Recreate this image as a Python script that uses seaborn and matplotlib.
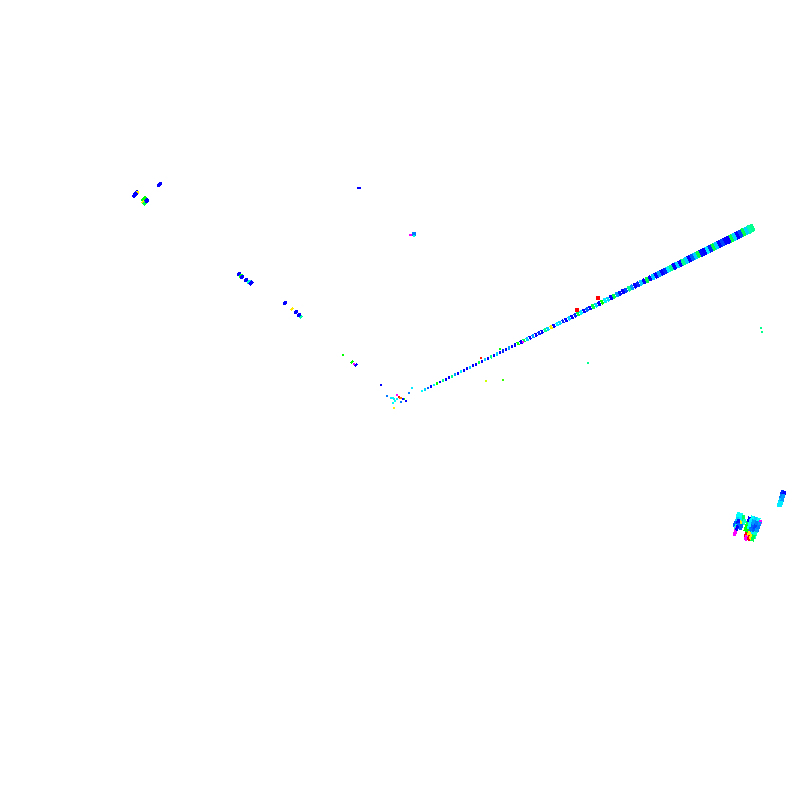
import matplotlib
matplotlib.use('Agg')
import matplotlib.pyplot as plt
import seaborn as sns

# values, origin near the middle of the frame
streak_x = [352, 349, 346, 343, 340, 337, 334, 331, 328, 325, 322, 319, 316, 313, 310, 307, 304, 301, 298, 295,
            292, 289, 286, 283, 280, 277, 274, 271, 268, 265, 262, 259, 256, 253, 250, 247, 244, 241, 238, 235,
            232, 229, 226, 223, 220, 217, 214, 211, 208, 205, 202, 199, 196, 193, 190, 187, 184, 181, 178, 175,
            172, 169, 166, 163, 160, 157, 154, 151, 148, 145, 142, 139, 136, 133, 130, 127, 124, 121, 118, 115,
            112, 109, 106, 103, 100, 97, 94, 91, 88, 85, 82, 79, 76, 73, 70, 67, 64, 61, 58, 55,
            52, 49, 46, 43, 40, 37, 34, 31, 28, 25, 22]
streak_y = [172, 170.5, 169, 167.6, 166, 164.6, 163, 161.6, 160.2, 158.7, 157.2, 155.7, 154.2, 152.7, 151.3, 149.8, 148.3, 146.8, 145.3, 143.9,
            142.4, 140.9, 139.4, 137.9, 136.4, 135, 133.5, 132, 130.5, 129, 127.5, 126, 124.6, 123.1, 121.6, 120.1, 118.7, 117.2, 115.7, 114.2,
            112.7, 111.2, 109.8, 108.3, 106.8, 105.3, 103.8, 102.4, 100.9, 99.4, 97.9, 96.4, 94.9, 93.5, 92, 90.5, 89, 87.5, 86.1, 84.6,
            83.1, 81.6, 80.1, 78.6, 77.2, 75.7, 74.2, 72.7, 71.2, 69.8, 68.3, 66.8, 65.3, 63.8, 62.3, 60.9, 59.4, 57.9, 56.4, 54.9,
            53.4, 52, 50.5, 49, 47.5, 46, 44.6, 43.1, 41.6, 40.1, 38.6, 37.1, 35.7, 34.2, 32.7, 31.2, 29.7, 28.3, 26.8, 25.3,
            23.8, 22.3, 20.8, 19.4, 17.9, 16.4, 14.9, 13.4, 12, 10.5, 9]
streak_val = [.5, .52, .62, .45, .72, .77, .62, .45, .77, .77, .72, .77, .62, .45, .74, .6, .77, .76, .45, .62,
              .7, .77, .62, .5, .77, .62, .77, .5, .6, .74, .77, .66, .77, .62, .77, .45, .77, .62, .74, .77,
              .66, .5, .72, .77, .76, .66, .45, .77, .62, .6, .4, .77, .62, .45, .77, .7, .77, .6, .45, .74,
              .77, .62, .77, .74, .62, .6, .77, .2, .62, .5, .77, .74, .77, .66, .77, .62, .45, .77, .4, .77,
              .77, .66, .77, .74, .77, .62, .77, .5, .77, .62, .77, .45, .77, .77, .62, .77, .77, .6, .77, .66,
              .5, .77, .77, .5, .77, .4, .6, .77, .7, .62, .58]
streak_size = [30, 32, 30, 30, 29, 29, 28, 28, 27, 26, 26, 25, 25, 24, 24, 23, 23, 22, 21, 21,
               20, 20, 20, 19, 18, 18, 18, 17, 16, 16, 16, 15, 15, 14, 14, 14, 13, 13, 12, 12,
               11, 11, 10, 10, 10, 10, 10, 9, 9, 9, 8, 8, 8, 8, 7, 7, 7, 7, 6, 6,
               6, 6, 6, 5, 5, 5, 5, 5, 5, 4.5, 4.5, 4.5, 4.5, 4, 4, 4, 4, 4, 4, 3.5,
               3.5, 3.5, 3.5, 3, 3, 3, 3, 3, 2.5, 2.5, 2.5, 2.5, 2.5, 2.5, 2, 2, 2, 2, 2, 2,
               1.8, 1.8, 1.8, 1.6, 1.6, 1.6, 1.5, 1.5, 1.4, 1.2, 1]

left_x = [-240, -241, -264, -263, -265, -256, -254, -257, -255, -253,
          -161, -159, -158, -154, -151, -149,
          -115, -108, -104, -101, -99, -57, -48, -46, -44]
left_y = [216, 215, 207, 207, 205, 201, 199, 198, 197, 199,
          126, 124, 123, 120, 118, 117,
          97, 91, 88, 85, 83, 45, 38, 36, 35]
left_val = [.77, .77, .77, .2, .77, .4, .77, .2, .45, .77,
            .77, .42, .77, .77, .55, .77,
            .77, .2, .77, .77, .52, .4, .4, .95, .77]
left_size = [8, 8, 12, 6, 12, 14, 12, 5, 10, 7,
             6, 6, 6, 8, 6, 9,
             6, 5, 6, 6, 4, 1, 3, 2, 3]

cluster_x = [382, 384, 381, 383, 380, 382, 379, 381,
             338, 341, 343, 337, 340, 335, 338, 341, 344, 336, 338, 341, 336, 335, 337,
             349, 352, 355, 358, 360, 347, 350, 353, 356, 359, 346, 349, 352, 355, 358,
             347, 350, 353, 356, 346, 349, 352, 355, 346, 349, 351, 353]
cluster_y = [-93, -94, -97, -97, -101, -101, -104, -104,
             -115, -116, -118, -120, -120, -124, -122, -123, -122, -127, -126, -127, -130, -133, -128,
             -120, -119, -120, -121, -123, -125, -123, -123, -124, -125, -128, -127, -128, -128, -128,
             -132, -131, -132, -132, -135, -134, -135, -135, -138, -138, -137, -138]
cluster_val = [.74, .77, .68, .66, .62, .66, .6, .6,
               .58, .58, .47, .62, .6, .7, .75, .2, .55, .55, .7, .7, .95, .95, .77,
               .77, .58, .62, .58, .95, .45, .6, .66, .68, .66, .4, .58, .7, .72, .68,
               .4, .68, .7, .66, .03, .2, .6, .55, .95, .03, .2, .45]
cluster_size = [16, 16, 16, 16, 16, 16, 16, 16,
                18, 18, 18, 18, 18, 18, 18, 9, 18, 18, 18, 18, 18, 14, 10,
                20, 20, 20, 20, 16, 20, 20, 20, 20, 20, 20, 20, 20, 20, 20,
                20, 20, 20, 20, 12, 12, 20, 20, 12, 12, 12, 20]

loose_x = [-42, -40, 10, 12, 14, 14, 361, 362, 188, 103, 86,
           177, 198, 123, 81, 100,
           -19, -13, -9, -7, -6, -5, -3, -3, -1, 0, 1, 4, 1, 3, 6, -7, -6, 9, 12]
loose_y = [212, 212, 165, 165, 166, 164, 72, 68, 37, 20, 19,
           90, 102, 58, 42, 51,
           15, 4, 2, 2, 1, -1, 1, 5, 3, 2, 2, 1, -2, 1, -1, -3, -8, 7, 12]
loose_val = [.77, .77, .95, .95, .68, .56, .5, .5, .5, .36, .25,
             .03, .03, .95, .05, .4,
             .77, .68, .6, .58, .6, .58, .6, .95, .03, .1, .12, .4, .68, .77, .77, .58, .2, .68, .6]
loose_size = [3, 3, 4, 4, 5, 4, 3, 2, 3, 1.2, .7,
              5, 6, 3, 3, 3,
              1, 1.2, 2, 3, 3, 2, 2, 1.5, 1.5, 1.5, 1.2, 1.2, 2, 1.5, 1.2, 1.5, 1, 1, 1]

# blocks turned across the direction of each arm
streak_mark = [(.82, -.715), (.06, -1.085), (-.82, .715), (-.06, 1.085)]
left_mark = [(1.05, .35), (.35, 1.05), (-1.05, -.35), (-.35, -1.05)]
cluster_mark = [(.72, .8), (-.12, 1.05), (-.72, -.8), (.12, -1.05)]


def draw_group(ax, xs, ys, vals, sizes, mark):
    sns.scatterplot(x=xs, y=ys, hue=vals, size=sizes, palette='gist_rainbow', hue_norm=(0, 1),
                    sizes=(.3, 60), size_norm=(.3, 60), marker=mark, linewidth=0,
                    antialiased=False, legend=False, ax=ax)


sns.set_theme(style='white')
fig = plt.figure(figsize=(8, 8), dpi=100)
ax = fig.add_axes([0, 0, 1, 1])

draw_group(ax, streak_x, streak_y, streak_val, streak_size, streak_mark)
draw_group(ax, left_x, left_y, left_val, left_size, left_mark)
draw_group(ax, cluster_x, cluster_y, cluster_val, cluster_size, cluster_mark)
draw_group(ax, loose_x, loose_y, loose_val, loose_size, 's')

ax.set_xlim(-400, 400)
ax.set_ylim(-400, 400)
ax.axis('off')
fig.savefig('out.png', dpi=100, facecolor='white')
